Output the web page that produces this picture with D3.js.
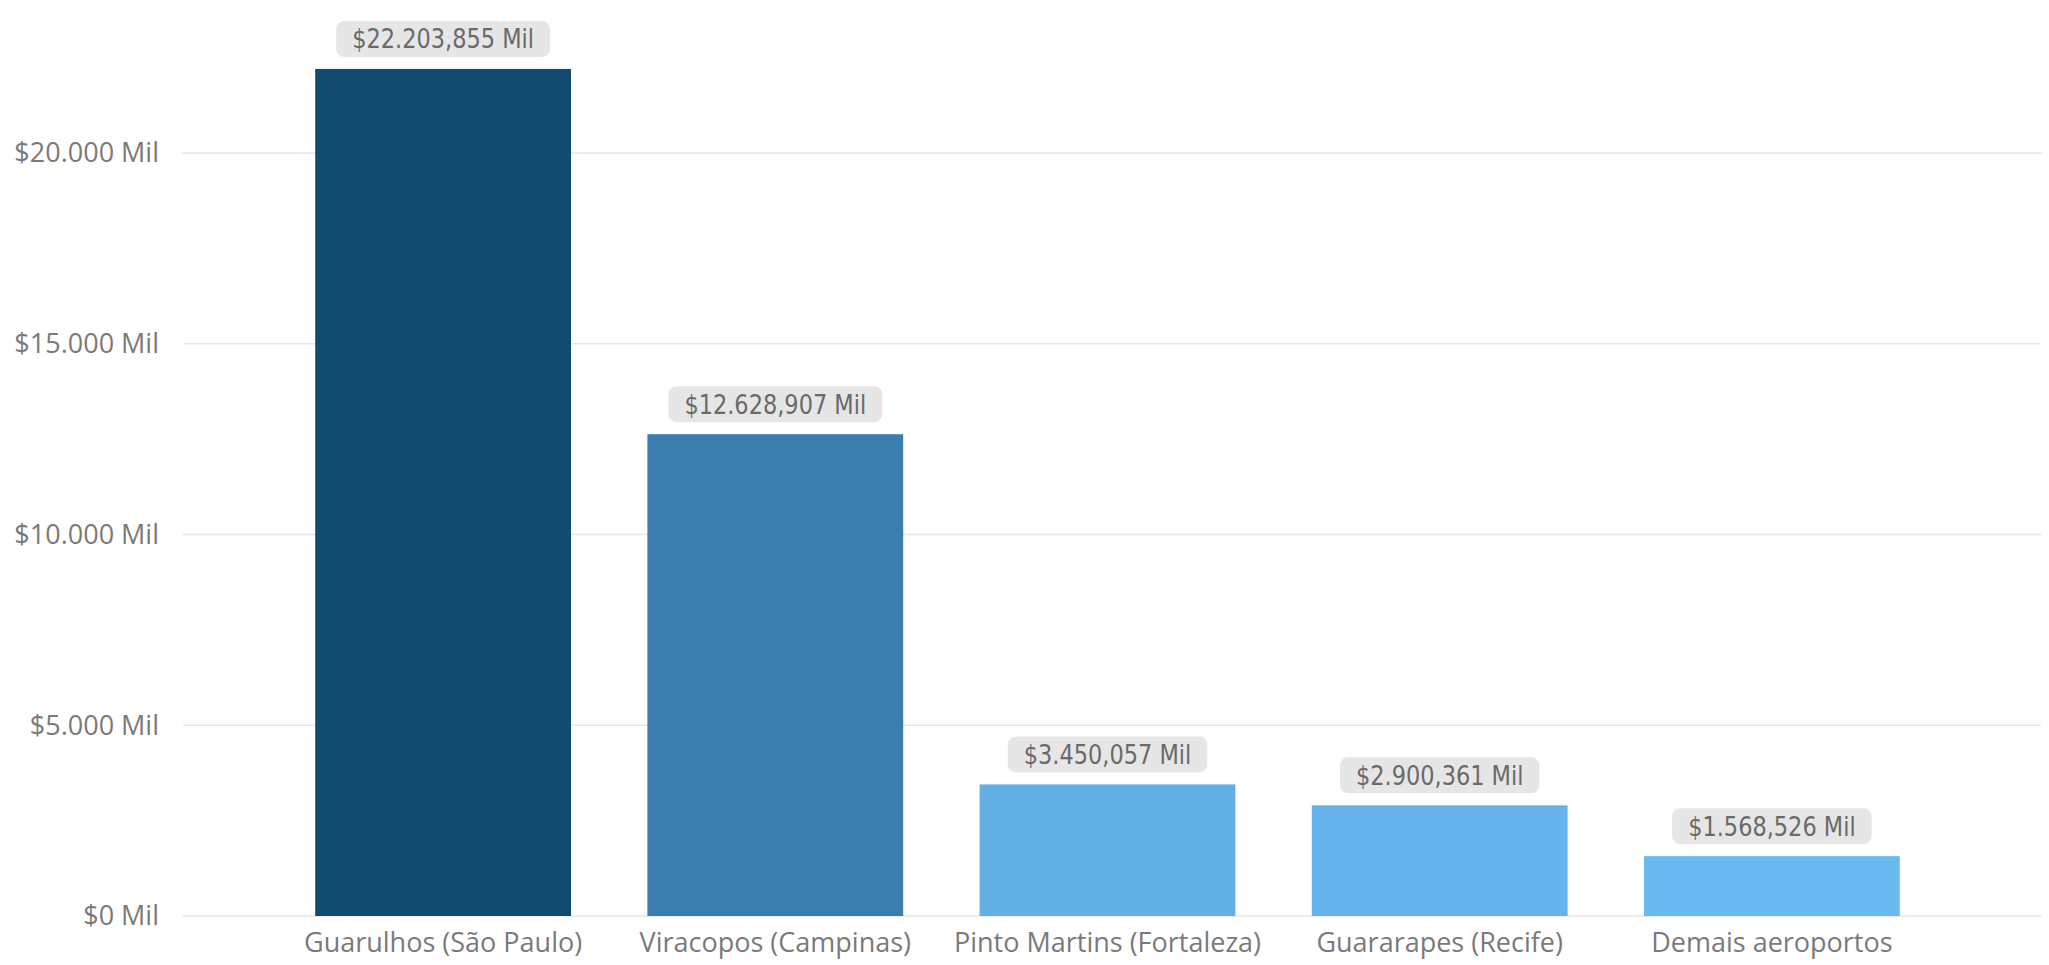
<!DOCTYPE html>
<html>
<head>
<meta charset="utf-8">
<script src="https://cdn.jsdelivr.net/npm/d3@7"></script>
<style>
  body { margin: 0; background: #fff; }
</style>
</head>
<body>
<div id="chart"></div>
<script>
// --- Daten (Werte in Mil) ---
const categorias = ["Guarulhos (São Paulo)", "Viracopos (Campinas)", "Pinto Martins (Fortaleza)", "Guararapes (Recife)", "Demais aeroportos"];
const valores = [22203.855, 12628.907, 3450.057, 2900.361, 1568.526];
const cores = ["#134a6f", "#3b7daf", "#62afe6", "#65b3ea", "#6ab9f0"];
const ticksY = [0, 5000, 10000, 15000, 20000];

const W = 2049, H = 965;

// pt-BR Zahlenformat
const locale = d3.formatLocale({ decimal: ",", thousands: ".", grouping: [3], currency: ["$", ""] });
const fmtTick = locale.format("$,.0f");
const fmtVal = locale.format("$,.3f");

const svg = d3.select("#chart").append("svg")
    .attr("width", W)
    .attr("height", H);

const x = d3.scaleBand()
    .domain(categorias)
    .range([277, 1938])
    .paddingInner(0.23)
    .paddingOuter(0.115);

const y = d3.scaleLinear()
    .domain([0, 20000])
    .range([916, 153]);

// Gitterlinien + Y-Beschriftung
const gy = svg.append("g");
gy.selectAll("line").data(ticksY).enter().append("line")
    .attr("x1", 183).attr("x2", 2041)
    .attr("y1", d => y(d)).attr("y2", d => y(d))
    .attr("stroke", "#e6e6e6")
    .attr("stroke-width", 1.5);
gy.selectAll("text").data(ticksY).enter().append("text")
    .attr("x", 159)
    .attr("y", d => y(d))
    .attr("dy", "0.35em")
    .attr("text-anchor", "end")
    .style("font-family", "'Open Sans', 'Noto Sans', sans-serif")
    .style("font-size", "27px")
    .style("fill", "#7a7a7a")
    .text(d => fmtTick(d) + " Mil");

// Balken
const data = categorias.map((c, i) => ({ cat: c, val: valores[i], cor: cores[i] }));
svg.selectAll("rect.bar").data(data).enter().append("rect")
    .attr("class", "bar")
    .attr("x", d => x(d.cat))
    .attr("y", d => y(d.val))
    .attr("width", x.bandwidth())
    .attr("height", d => y(0) - y(d.val))
    .attr("fill", d => d.cor);

// X-Beschriftung
svg.selectAll("text.cat").data(categorias).enter().append("text")
    .attr("class", "cat")
    .attr("x", d => x(d) + x.bandwidth() / 2)
    .attr("y", 943)
    .attr("dy", "0.35em")
    .attr("text-anchor", "middle")
    .style("font-family", "'Open Sans', 'Noto Sans', sans-serif")
    .style("font-size", "27px")
    .style("fill", "#7a7a7a")
    .text(d => d);

// Wertelabels mit grauem Kasten
const lab = svg.selectAll("g.lab").data(data).enter().append("g")
    .attr("class", "lab")
    .attr("transform", d => `translate(${x(d.cat) + x.bandwidth() / 2},${y(d.val) - 30})`);
const rects = lab.append("rect")
    .attr("fill", "#e6e6e6")
    .attr("rx", 8);
const texts = lab.append("text")
    .attr("text-anchor", "middle")
    .attr("dy", "0.36em")
    .style("font-family", "'DejaVu Sans Condensed', 'Liberation Sans Narrow', sans-serif")
    .style("font-size", "26px")
    .style("fill", "#6a6a6a")
    .text(d => fmtVal(d.val) + " Mil");
texts.each(function (d, i) {
    // etwas schmaler, wie die DIN-Schrift im Original
    const w = this.getComputedTextLength() * 0.96;
    d3.select(this).attr("textLength", w).attr("lengthAdjust", "spacingAndGlyphs");
    d3.select(rects.nodes()[i])
        .attr("x", -w / 2 - 16)
        .attr("y", -18)
        .attr("width", w + 32)
        .attr("height", 36);
});
</script>
</body>
</html>
